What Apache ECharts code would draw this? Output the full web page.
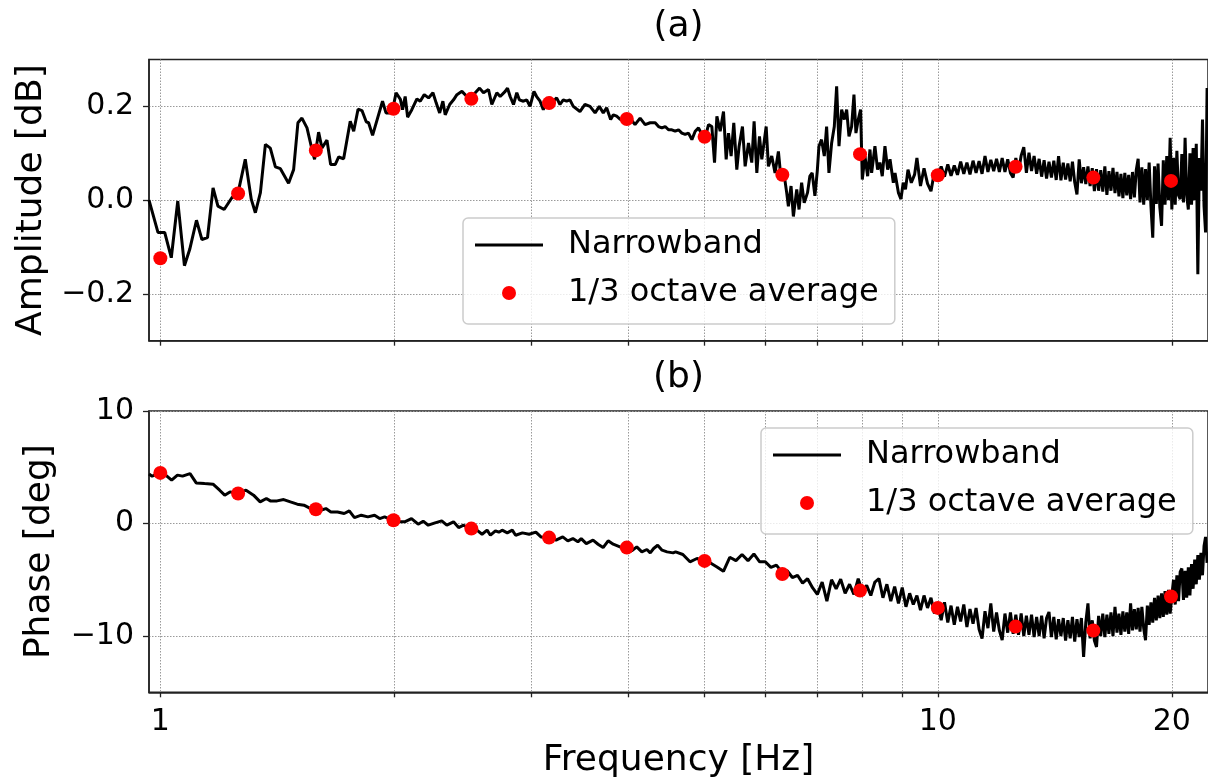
<!DOCTYPE html>
<html><head><meta charset="utf-8">
<script src="https://cdn.jsdelivr.net/npm/echarts@6/dist/echarts.min.js"></script>
<style>html,body{margin:0;padding:0;background:#fff}#c{width:1208px;height:782px}</style>
</head><body><div id="c"></div>
<script>
// 1/3 octave band centre frequencies [Hz]
const bandFreqs = [1.000, 1.259, 1.585, 1.995, 2.512, 3.162, 3.981, 5.012, 6.310, 7.943, 10.00, 12.59, 15.85, 19.95];
// 1/3 octave averages
const ampBand = [-0.124, 0.014, 0.106, 0.195, 0.216, 0.207, 0.173, 0.135, 0.054, 0.098, 0.053, 0.071, 0.048, 0.041];
const phaseBand = [4.50, 2.67, 1.27, 0.29, -0.45, -1.25, -2.14, -3.32, -4.48, -5.96, -7.50, -9.16, -9.51, -6.49];

// Narrowband amplitude [Hz, dB]
const ampNarrowband = [
[0.967,0.000],[0.971,0.002],[0.993,-0.069],[1.013,-0.069],[1.033,-0.123],[1.053,-0.002],[1.074,-0.140],[1.091,-0.105],
[1.113,-0.043],[1.131,-0.084],[1.150,-0.080],[1.169,0.026],[1.186,-0.013],[1.208,-0.020],[1.236,0.005],[1.259,0.016],
[1.286,0.087],[1.309,0.002],[1.325,-0.027],[1.345,0.016],[1.365,0.119],[1.385,0.111],[1.406,0.071],[1.427,0.067],
[1.462,0.036],[1.484,0.065],[1.503,0.165],[1.521,0.175],[1.544,0.154],[1.567,0.108],[1.579,0.087],[1.598,0.145],
[1.614,0.111],[1.638,0.128],[1.656,0.076],[1.679,0.076],[1.696,0.092],[1.721,0.088],[1.755,0.168],[1.773,0.147],
[1.796,0.194],[1.817,0.191],[1.840,0.167],[1.853,0.165],[1.875,0.138],[1.903,0.175],[1.931,0.211],[1.951,0.186],
[1.986,0.186],[2.010,0.229],[2.036,0.215],[2.049,0.193],[2.065,0.221],[2.080,0.177],[2.106,0.193],[2.138,0.216],
[2.159,0.211],[2.185,0.225],[2.213,0.218],[2.242,0.229],[2.264,0.207],[2.287,0.186],[2.309,0.211],[2.325,0.182],
[2.356,0.204],[2.383,0.214],[2.407,0.225],[2.443,0.232],[2.479,0.221],[2.516,0.221],[2.574,0.239],[2.604,0.229],
[2.643,0.236],[2.669,0.204],[2.709,0.229],[2.736,0.221],[2.777,0.232],[2.796,0.239],[2.818,0.221],[2.846,0.204],
[2.874,0.229],[2.896,0.214],[2.931,0.211],[2.960,0.214],[2.989,0.200],[3.024,0.232],[3.048,0.221],[3.079,0.211],
[3.109,0.193],[3.140,0.214],[3.171,0.218],[3.202,0.211],[3.234,0.218],[3.266,0.204],[3.298,0.214],[3.331,0.211],
[3.364,0.214],[3.397,0.200],[3.465,0.189],[3.517,0.204],[3.570,0.200],[3.624,0.186],[3.670,0.200],[3.713,0.186],
[3.750,0.197],[3.795,0.172],[3.825,0.182],[3.863,0.179],[3.901,0.173],[3.959,0.168],[4.019,0.175],[4.079,0.161],
[4.141,0.175],[4.203,0.161],[4.266,0.165],[4.330,0.165],[4.373,0.157],[4.416,0.154],[4.460,0.157],[4.504,0.150],
[4.549,0.150],[4.594,0.147],[4.640,0.150],[4.686,0.143],[4.732,0.140],[4.779,0.143],[4.827,0.129],[4.875,0.147],
[4.923,0.154],[4.972,0.140],[5.021,0.133],[5.071,0.161],[5.121,0.157],[5.162,0.080],[5.198,0.179],[5.249,0.147],
[5.301,0.189],[5.343,0.087],[5.380,0.143],[5.422,0.094],[5.465,0.165],[5.514,0.065],[5.552,0.115],[5.607,0.157],
[5.652,0.072],[5.708,0.122],[5.764,0.080],[5.804,0.168],[5.851,0.058],[5.897,0.136],[5.938,0.087],[6.015,0.157],
[6.055,0.072],[6.115,0.094],[6.175,0.058],[6.237,0.104],[6.286,0.044],[6.330,0.065],[6.392,0.016],[6.424,-0.013],
[6.475,0.030],[6.520,-0.035],[6.585,0.023],[6.630,-0.020],[6.681,0.037],[6.732,-0.006],[6.799,0.016],[6.846,0.051],
[6.893,0.058],[6.949,0.009],[6.998,0.062],[7.033,0.115],[7.087,0.129],[7.145,0.094],[7.194,0.157],[7.244,0.058],
[7.302,0.122],[7.360,0.157],[7.411,0.243],[7.463,0.115],[7.522,0.193],[7.581,0.172],[7.634,0.193],[7.687,0.136],
[7.747,0.157],[7.801,0.225],[7.847,0.143],[7.901,0.172],[7.956,0.193],[7.996,0.044],[8.059,0.094],[8.124,0.051],
[8.180,0.108],[8.220,0.058],[8.301,0.115],[8.366,0.065],[8.424,0.080],[8.483,0.051],[8.551,0.115],[8.620,0.065],
[8.680,0.087],[8.766,0.037],[8.810,0.058],[8.898,0.016],[8.966,0.002],[9.026,0.037],[9.087,0.023],[9.155,0.065],
[9.245,0.037],[9.337,0.055],
[9.4,0.090],[9.5,0.030],[9.6,0.068],[9.7,0.035],[9.8,0.019],[9.9,0.060],[10.0,0.048],
[10.1,0.072],[10.2,0.050],[10.3,0.076],[10.4,0.052],[10.5,0.074],[10.6,0.054],
[10.7,0.082],[10.8,0.056],[10.9,0.080],[11.0,0.055],[11.1,0.084],[11.2,0.058],[11.3,0.083],[11.4,0.056],[11.5,0.094],[11.6,0.060],[11.7,0.086],
[11.8,0.062],[11.9,0.088],[12.0,0.060],[12.1,0.090],[12.2,0.060],[12.3,0.087],[12.4,0.058],
[12.5,0.048],[12.6,0.090],[12.7,0.060],[12.8,0.095],[12.9,0.113],[13.0,0.058],[13.1,0.101],[13.2,0.062],[13.3,0.094],[13.4,0.056],
[13.5,0.088],[13.6,0.050],[13.7,0.085],[13.8,0.046],[13.9,0.082],[14.0,0.048],[14.1,0.084],[14.2,0.043],[14.3,0.094],
[14.4,0.042],[14.5,0.080],[14.6,0.044],[14.7,0.078],[14.8,0.040],[14.9,0.082],[15.0,0.038],[15.1,0.012],[15.2,0.087],
[15.3,0.036],[15.4,0.070],[15.5,0.034],[15.6,0.072],[15.7,0.030],[15.8,0.068],[15.9,0.019],
[16.0,0.066],[16.1,0.020],[16.2,0.064],[16.3,0.018],[16.4,0.072],[16.5,0.011],[16.6,0.062],[16.7,0.020],[16.8,0.069],[16.9,0.015],[17.0,0.060],
[17.1,0.008],[17.2,0.056],[17.3,0.004],[17.4,0.058],[17.5,0.010],[17.6,0.054],[17.7,0.002],[17.8,0.060],[17.9,0.006],[18.0,0.064],[18.1,0.088],
[18.2,-0.005],[18.3,0.070],[18.4,-0.010],[18.5,0.066],[18.6,0.000],[18.7,0.080],[18.8,-0.013],[18.9,-0.080],[19.0,0.072],[19.1,-0.008],[19.2,0.078],
[19.3,-0.015],[19.4,-0.055],[19.5,0.085],[19.6,-0.010],[19.7,0.094],[19.8,0.000],[19.9,0.133],[20.0,-0.020],
[20.1,0.090],[20.2,-0.010],[20.3,0.105],[20.4,0.010],[20.5,0.002],[20.6,0.098],[20.7,-0.005],[20.8,0.133],[20.9,0.010],[21.0,-0.020],[21.1,0.100],[21.2,-0.010],[21.3,0.111],
[21.4,0.000],[21.5,0.120],[21.6,-0.158],[21.7,0.090],[21.8,0.020],[21.9,0.172],[22.0,-0.013],[22.1,-0.069],[22.2,0.239]
];

// Narrowband phase [Hz, deg]
const phaseNarrowband = [
[0.967,4.40],[0.976,4.21],[0.999,4.50],[1.016,4.30],[1.034,3.85],[1.052,4.30],[1.068,4.21],[1.092,4.44],
[1.112,3.61],[1.140,3.55],[1.169,3.50],[1.192,2.96],[1.210,2.52],[1.229,2.81],[1.259,2.67],[1.289,2.96],
[1.318,2.52],[1.344,1.92],[1.369,2.22],[1.385,2.01],[1.413,2.01],[1.441,2.13],[1.470,1.92],[1.500,1.72],
[1.530,1.63],[1.561,1.33],[1.586,1.27],[1.608,1.18],[1.633,1.33],[1.657,1.03],[1.690,1.03],[1.724,0.89],
[1.750,1.12],[1.777,0.53],[1.813,0.74],[1.849,0.59],[1.886,0.74],[1.915,0.44],[1.943,0.59],[1.988,0.30],
[2.021,0.15],[2.062,0.15],[2.104,0.44],[2.146,-0.06],[2.178,0.21],[2.211,-0.15],[2.256,0.06],[2.301,0.23],
[2.336,-0.15],[2.383,0.15],[2.419,-0.36],[2.455,-0.15],[2.499,-0.44],[2.554,-0.59],[2.593,-0.95],[2.632,-0.59],
[2.658,-1.04],[2.698,-0.65],[2.725,-0.77],[2.752,-0.59],[2.794,-0.83],[2.836,-0.59],[2.864,-1.04],[2.922,-0.83],
[2.981,-0.95],[3.041,-0.77],[3.087,-1.19],[3.149,-1.25],[3.228,-1.48],[3.293,-1.19],[3.343,-1.54],[3.393,-1.34],
[3.444,-1.63],[3.478,-1.34],[3.531,-1.78],[3.602,-1.48],[3.656,-1.84],[3.711,-2.14],[3.767,-1.54],[3.824,-1.84],
[3.901,-2.08],[3.963,-2.14],[4.039,-2.43],[4.100,-2.08],[4.162,-2.52],[4.225,-2.31],[4.267,-2.61],[4.310,-2.22],
[4.362,-1.93],[4.419,-2.37],[4.485,-2.52],[4.566,-2.61],
[4.6,-2.52],[4.7,-2.75],[4.8,-3.40],[4.9,-3.11],[5.0,-3.30],[5.1,-3.50],[5.2,-3.86],[5.3,-4.25],[5.4,-3.00],[5.5,-3.30],
[5.6,-2.75],[5.7,-3.30],[5.8,-2.70],[5.9,-3.40],[6.0,-3.40],[6.1,-3.90],[6.2,-3.70],[6.3,-4.30],[6.4,-4.20],[6.5,-4.80],
[6.6,-4.60],[6.7,-5.30],[6.8,-4.90],[6.9,-5.70],[7.0,-6.30],[7.1,-5.20],[7.2,-6.90],[7.3,-5.00],[7.4,-5.80],[7.5,-4.95],
[7.6,-6.20],[7.7,-5.40],[7.8,-6.30],[7.9,-4.90],[8.0,-6.10],[8.1,-5.50],[8.2,-6.40],[8.3,-5.20],[8.4,-4.90],[8.5,-6.60],
[8.6,-5.40],[8.7,-6.90],[8.8,-5.60],[8.9,-7.10],[9.0,-5.70],[9.1,-7.40],[9.2,-6.20],[9.3,-7.20],[9.4,-6.40],[9.5,-7.70],
[9.6,-6.40],[9.7,-7.50],[9.8,-6.60],[9.9,-8.00],[10.0,-7.10],[10.1,-8.60],[10.2,-7.00],[10.3,-8.80],[10.4,-7.30],[10.5,-9.00],
[10.6,-7.40],[10.7,-8.70],[10.8,-7.20],[10.9,-9.20],[11.0,-7.60],[11.1,-8.90],[11.2,-7.50],[11.3,-9.40],[11.4,-10.22],[11.5,-7.80],
[11.6,-9.30],[11.7,-7.10],[11.8,-9.60],[11.9,-7.90],[12.0,-9.50],[12.1,-10.37],[12.2,-8.00],[12.3,-9.70],[12.4,-7.90],[12.5,-9.80],
[12.6,-8.10],[12.7,-9.90],[12.8,-8.00],[12.9,-10.00],[13.0,-8.20],[13.1,-9.90],[13.2,-8.10],[13.3,-10.10],[13.4,-8.30],[13.5,-10.00],
[13.6,-8.20],[13.7,-10.20],[13.8,-8.40],[13.9,-7.86],[14.0,-10.10],[14.1,-8.30],[14.2,-10.30],[14.3,-8.50],[14.4,-10.00],[14.5,-8.40],
[14.6,-10.40],[14.7,-8.60],[14.8,-10.20],[14.9,-8.30],[15.0,-10.50],[15.1,-8.50],[15.2,-10.10],[15.3,-8.40],[15.4,-11.86],[15.5,-8.80],
[15.6,-7.10],[15.7,-10.20],[15.8,-8.60],[15.9,-10.40],[16.0,-10.97],[16.1,-8.20],[16.2,-10.00],[16.3,-8.00],[16.4,-10.10],[16.5,-8.10],
[16.6,-9.80],[16.7,-7.90],[16.8,-10.00],[16.9,-7.40],[17.0,-9.70],[17.1,-8.00],[17.2,-9.90],[17.3,-7.80],[17.4,-9.60],[17.5,-7.90],
[17.6,-9.80],[17.7,-7.10],[17.8,-9.50],[17.9,-7.60],[18.0,-9.40],[18.1,-7.50],[18.2,-9.60],[18.3,-7.40],[18.4,-9.30],[18.5,-10.37],
[18.6,-7.30],[18.7,-9.00],[18.8,-7.00],[18.9,-8.80],[19.0,-6.60],[19.1,-8.60],[19.2,-6.40],[19.3,-8.40],[19.4,-6.20],[19.5,-8.30],
[19.6,-6.00],[19.7,-8.10],[19.8,-5.90],[19.9,-8.00],[20.0,-6.40],[20.1,-5.00],[20.2,-7.20],[20.3,-4.60],[20.4,-6.90],[20.5,-4.30],
[20.6,-4.00],[20.7,-6.80],[20.8,-4.20],[20.9,-6.60],[21.0,-3.90],[21.1,-6.40],[21.2,-3.60],[21.3,-5.80],[21.4,-3.20],[21.5,-5.40],
[21.6,-2.80],[21.7,-5.00],[21.8,-2.60],[21.9,-4.60],[22.0,-2.00],[22.1,-1.19],[22.2,-3.50]
];

// Axis ticks and labels
const xTickValues = [1, 2, 3, 4, 5, 6, 7, 8, 9, 10, 20];
const xLabelValues = [1, 10, 20];
const ampTickValues = [-0.2, 0, 0.2];
const phaseTickValues = [-10, 0, 10];
const seriesNames = ['Narrowband', '1/3 octave average'];

const FONT = 'DejaVu Sans';
const chart = echarts.init(document.getElementById('c'), null, {renderer: 'canvas'});

const minus = s => s.replace('-', '\u2212');
const gridLine = {show: true, lineStyle: {color: '#9a9a9a', width: 1, type: [1.5, 1.5]}};

function xAxisFor(idx, showLabels) {
  return {
    type: 'log', gridIndex: idx, logBase: 10, min: 0.967, max: 22.26,
    axisLine: {show: true, onZero: false, lineStyle: {color: '#222', width: 1.5}},
    axisTick: {show: true, inside: false, length: 5, customValues: xTickValues, lineStyle: {color: '#222', width: 1.3}},
    axisLabel: {show: showLabels, customValues: xLabelValues, margin: 15, fontSize: 30, fontFamily: FONT, color: '#000',
      formatter: v => String(Math.round(v))},
    splitLine: gridLine,
    name: showLabels ? 'Frequency [Hz]' : '',
    nameLocation: 'middle', nameGap: 50,
    nameTextStyle: {fontSize: 36, fontFamily: FONT, color: '#000'}
  };
}
function yAxisFor(idx, min, max, ticks, fmt, name, gap) {
  return {
    type: 'value', gridIndex: idx, min: min, max: max,
    axisLine: {show: true, onZero: false, lineStyle: {color: '#222', width: 1.5}},
    axisTick: {show: true, inside: false, length: 6, customValues: ticks, lineStyle: {color: '#222', width: 1.3}},
    axisLabel: {customValues: ticks, margin: 15, fontSize: 30, fontFamily: FONT, color: '#000', formatter: fmt},
    splitLine: gridLine,
    name: name, nameLocation: 'middle', nameGap: gap,
    nameTextStyle: {fontSize: 36, fontFamily: FONT, color: '#000'}
  };
}
function legendAt(left, top) {
  return {
    orient: 'vertical', left: left, top: top, selectedMode: false,
    data: [
      {name: seriesNames[0], icon: 'path://M0 0H68V3H0Z'},
      {name: seriesNames[1], icon: 'circle'}
    ],
    itemWidth: 68, itemHeight: 14, itemGap: 14, padding: [10, 16, 14, 12],
    backgroundColor: 'rgba(255,255,255,0.8)', borderColor: '#cccccc', borderWidth: 1.5, borderRadius: 5,
    textStyle: {fontSize: 32, fontFamily: FONT, color: '#000', lineHeight: 34, padding: [0, 0, 0, 20]}
  };
}
function titleAt(text, top) {
  return {text: text, left: 678.5, top: top, padding: 0, textAlign: 'center', textVerticalAlign: 'top',
    textStyle: {fontSize: 36, fontFamily: FONT, fontWeight: 'normal', color: '#000'}};
}

const option = {
  animation: false,
  backgroundColor: '#fff',
  title: [titleAt('(a)', 9), titleAt('(b)', 360)],
  grid: [
    {left: 149, top: 59.5, width: 1059, height: 281.2, show: true, borderColor: '#222', borderWidth: 1.5, backgroundColor: 'transparent'},
    {left: 149, top: 411, width: 1059, height: 281.3, show: true, borderColor: '#222', borderWidth: 1.5, backgroundColor: 'transparent'}
  ],
  xAxis: [xAxisFor(0, false), xAxisFor(1, true)],
  yAxis: [
    yAxisFor(0, -0.3, 0.3, ampTickValues, v => minus(v.toFixed(1)), 'Amplitude [dB]', 99),
    yAxisFor(1, -15, 10, phaseTickValues, v => minus(String(v)), 'Phase [deg]', 91)
  ],
  legend: [legendAt(463, 218), legendAt(761, 428)],
  series: [
    {name: seriesNames[0], type: 'line', xAxisIndex: 0, yAxisIndex: 0, data: ampNarrowband, symbol: 'none',
      lineStyle: {color: '#000', width: 3}, itemStyle: {color: '#000'}, z: 2},
    {name: seriesNames[1], type: 'scatter', xAxisIndex: 0, yAxisIndex: 0,
      data: bandFreqs.map((f, i) => [f, ampBand[i]]), symbol: 'circle', symbolSize: 14,
      itemStyle: {color: '#ff0000', opacity: 1}, z: 3},
    {name: seriesNames[0], type: 'line', xAxisIndex: 1, yAxisIndex: 1, data: phaseNarrowband, symbol: 'none',
      lineStyle: {color: '#000', width: 3}, itemStyle: {color: '#000'}, z: 2},
    {name: seriesNames[1], type: 'scatter', xAxisIndex: 1, yAxisIndex: 1,
      data: bandFreqs.map((f, i) => [f, phaseBand[i]]), symbol: 'circle', symbolSize: 14,
      itemStyle: {color: '#ff0000', opacity: 1}, z: 3}
  ]
};
chart.setOption(option);
</script></body></html>
